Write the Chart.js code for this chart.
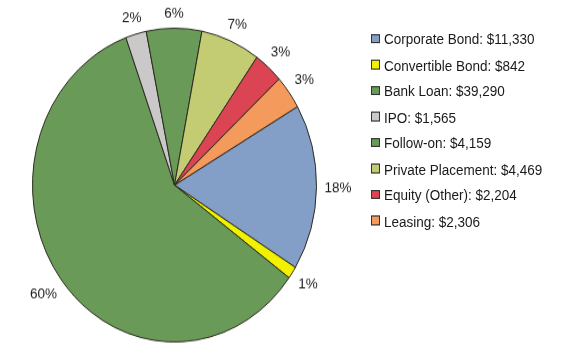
<!DOCTYPE html>
<html>
<head>
<meta charset="utf-8">
<script src="https://cdn.jsdelivr.net/npm/chart.js@4.4.1/dist/chart.umd.min.js"></script>
<style>
  html, body { margin: 0; padding: 0; background: #fff; }
  #wrap { position: relative; width: 566px; height: 358px; }
  #grafico { position: absolute; left: 0; top: 0; }
  #legenda {
    position: absolute;
    left: 371px;
    top: 0;
    width: 190px;
    height: 240px;
    transform: scaleY(1.105);
    transform-origin: 0 0;
    font-family: "Liberation Sans", Arial, sans-serif;
    font-size: 13.5px;
    color: #1a1a1a;
  }
  .item {
    position: absolute;
    left: 0;
    white-space: nowrap;
    height: 16px;
    line-height: 16px;
  }
  .caixa {
    display: inline-block;
    width: 7px;
    height: 6.5px;
    border: 1px solid #333;
    margin-right: 4px;
    vertical-align: 1px;
  }
</style>
</head>
<body>
<div id="wrap">
  <!-- desenhado com 324px de altura e esticado para 358px, como no original -->
  <canvas id="grafico" width="566" height="324" style="width:566px;height:358px"></canvas>
  <div id="legenda"></div>
</div>
<script>
const categorias = ['Corporate Bond', 'Convertible Bond', 'Bank Loan', 'IPO', 'Follow-on', 'Private Placement', 'Equity (Other)', 'Leasing'];
const valores = [11330, 842, 39290, 1565, 4159, 4469, 2204, 2306];
const rotulos = ['18%', '1%', '60%', '2%', '6%', '7%', '3%', '3%'];
const cores = ['#839fc7', '#f2f200', '#6a9a58', '#cbc8ca', '#6a9a58', '#c3cb73', '#db4453', '#f59a5d'];

// rótulos de porcentagem fora da pizza
const rotulosFora = {
  id: 'rotulosFora',
  afterDatasetsDraw(chart) {
    const ctx = chart.ctx;
    const arcos = chart.getDatasetMeta(0).data;
    ctx.save();
    ctx.font = '13.5px "Liberation Sans", Arial, sans-serif';
    ctx.fillStyle = '#1a1a1a';
    ctx.textAlign = 'center';
    ctx.textBaseline = 'middle';
    arcos.forEach((arco, i) => {
      const meio = (arco.startAngle + arco.endAngle) / 2;
      const ux = Math.cos(meio), uy = Math.sin(meio);
      const w = ctx.measureText(rotulos[i]).width;
      const d = arco.outerRadius + 8 + Math.abs(ux) * w / 2 + Math.abs(uy) * 5;
      ctx.fillText(rotulos[i], arco.x + ux * d, arco.y + uy * d);
    });
    ctx.restore();
  }
};

const ctx = document.getElementById('grafico').getContext('2d');
new Chart(ctx, {
  type: 'pie',
  data: {
    labels: categorias,
    datasets: [{
      data: valores,
      backgroundColor: cores,
      borderColor: '#2a2a1e',
      borderWidth: 1
    }]
  },
  options: {
    responsive: false,
    animation: false,
    rotation: 60,
    layout: { padding: { left: 32, right: 249, top: 25, bottom: 14 } },
    plugins: {
      legend: { display: false },
      tooltip: { enabled: false }
    }
  },
  plugins: [rotulosFora]
});

// legenda à direita
const divLegenda = document.getElementById('legenda');
categorias.forEach((c, i) => {
  const item = document.createElement('div');
  item.className = 'item';
  item.style.top = (28.2 + i * 23.5) + 'px';
  const caixa = document.createElement('span');
  caixa.className = 'caixa';
  caixa.style.background = cores[i];
  item.appendChild(caixa);
  item.appendChild(document.createTextNode(c + ': $' + valores[i].toLocaleString('en-US')));
  divLegenda.appendChild(item);
});
</script>
</body>
</html>
